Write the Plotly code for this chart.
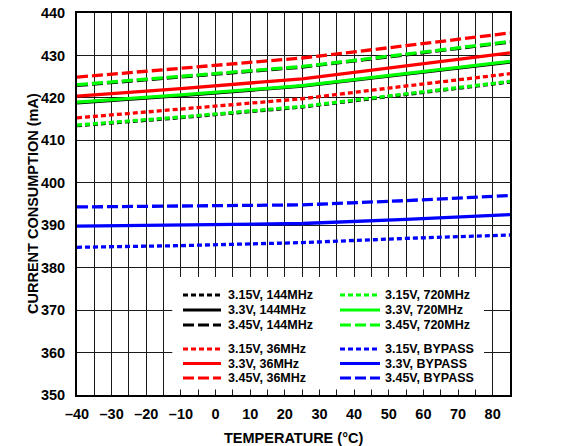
import plotly.graph_objects as go

temps = [-40, -10, 25, 55, 85]

# series values (mA)
i144_315 = [413.45, 415.35, 417.85, 420.85, 423.75]
i144_330 = [418.85, 420.55, 422.75, 425.65, 428.45]
i144_345 = [422.95, 424.85, 427.25, 430.15, 433.15]
i720_315 = [413.6, 415.5, 418.0, 421.0, 423.9]
i720_330 = [419.0, 420.7, 422.9, 425.8, 428.6]
i720_345 = [423.1, 425.0, 427.4, 430.3, 433.3]
i36_315 = [415.3, 417.3, 419.8, 422.8, 425.7]
i36_330 = [420.4, 422.2, 424.5, 427.6, 430.6]
i36_345 = [424.9, 426.9, 429.4, 432.3, 435.3]
ibp_315 = [384.8, 385.2, 385.9, 386.9, 387.7]
ibp_330 = [389.8, 390.0, 390.4, 391.4, 392.5]
ibp_345 = [394.3, 394.5, 394.8, 395.8, 397.0]

x_tickvals = [-40, -30, -20, -10, 0, 10, 20, 30, 40, 50, 60, 70, 80]
x_ticktext = ["\u201340", "\u201330", "\u201320", "\u201310", "0", "10", "20", "30", "40", "50", "60", "70", "80"]
y_tickvals = [350, 360, 370, 380, 390, 400, 410, 420, 430, 440]

x_title = "TEMPERATURE (\u00b0C)"
y_title = "CURRENT CONSUMPTION (mA)"

DOT = "5px,3px"
DASH = "11px,4px"
SOLID = "solid"

series = [
    ("3.15V, 144MHz", i144_315, "#000000", DOT),
    ("3.3V, 144MHz", i144_330, "#000000", SOLID),
    ("3.45V, 144MHz", i144_345, "#000000", DASH),
    ("3.15V, 720MHz", i720_315, "#00FF00", DOT),
    ("3.3V, 720MHz", i720_330, "#00FF00", SOLID),
    ("3.45V, 720MHz", i720_345, "#00FF00", DASH),
    ("3.15V, 36MHz", i36_315, "#FF0000", DOT),
    ("3.3V, 36MHz", i36_330, "#FF0000", SOLID),
    ("3.45V, 36MHz", i36_345, "#FF0000", DASH),
    ("3.15V, BYPASS", ibp_315, "#0000FF", DOT),
    ("3.3V, BYPASS", ibp_330, "#0000FF", SOLID),
    ("3.45V, BYPASS", ibp_345, "#0000FF", DASH),
]

FONT = "Liberation Sans, Arial, sans-serif"
W, H = 575, 446
ML, MR, MT, MB = 77, 65, 13, 51
PW, PH = W - ML - MR, H - MT - MB

fig = go.Figure()
for name, ys, col, dash in series:
    fig.add_trace(go.Scatter(x=temps, y=ys, mode="lines", name=name,
                             line=dict(color=col, width=3.3, dash=dash),
                             showlegend=False))

def px2paper_x(px):
    return (px - ML) / PW

def px2paper_y(py):
    return 1 - (py - MT) / PH

shapes = []
annotations = []
# white legend box hiding grid
shapes.append(dict(type="rect", xref="x", yref="y", x0=-12.5, x1=77.5, y0=351.3, y1=377.8,
                   fillcolor="white", line=dict(width=0), layer="between"))

cols = [(183, 221, 227), (340, 380, 384)]
rows_top = [295, 310, 325]
rows_bot = [349, 363.5, 378]
legend_pos = {}
for k in range(3):
    legend_pos[k] = (cols[0], rows_top[k])
    legend_pos[3 + k] = (cols[1], rows_top[k])
    legend_pos[6 + k] = (cols[0], rows_bot[k])
    legend_pos[9 + k] = (cols[1], rows_bot[k])

for idx, (name, ys, col, dash) in enumerate(series):
    (lx0, lx1, tx), ry = legend_pos[idx]
    shapes.append(dict(type="line", xref="paper", yref="paper",
                       x0=px2paper_x(lx0), x1=px2paper_x(lx1),
                       y0=px2paper_y(ry), y1=px2paper_y(ry),
                       line=dict(color=col, width=3, dash=dash), layer="above"))
    annotations.append(dict(xref="paper", yref="paper", x=px2paper_x(tx), y=px2paper_y(ry),
                            text="<b>" + name + "</b>", showarrow=False, xanchor="left", yanchor="middle",
                            borderpad=0,
                            font=dict(family=FONT, size=12.5, color="black")))

# axis titles
annotations.append(dict(xref="paper", yref="paper", x=0.5, y=px2paper_y(438),
                        text="<b>" + x_title + "</b>", showarrow=False,
                        xanchor="center", yanchor="middle",
                        font=dict(family=FONT, size=14.5, color="black")))
annotations.append(dict(xref="paper", yref="paper", x=px2paper_x(33), y=0.5,
                        text="<b>" + y_title + "</b>", showarrow=False, textangle=-90,
                        xanchor="center", yanchor="middle",
                        font=dict(family=FONT, size=14.5, color="black")))

fig.update_layout(
    width=W, height=H,
    margin=dict(l=ML, r=MR, t=MT, b=MB, autoexpand=False),
    paper_bgcolor="white", plot_bgcolor="white",
    shapes=shapes, annotations=annotations,
    showlegend=False,
    font=dict(family=FONT, color="black"),
    xaxis=dict(range=[-40, 85], tickvals=x_tickvals, ticktext=x_ticktext, automargin=False,
               showgrid=True, gridcolor="#1a1a1a", gridwidth=1,
               minor=dict(dtick=5, tick0=-40, showgrid=True, gridcolor="#1a1a1a", gridwidth=1),
               showline=True, linecolor="black", linewidth=2, mirror=True,
               ticks="", zeroline=False, ticklabelstandoff=5,
               tickfont=dict(family=FONT, size=14.5, color="black", weight="bold")),
    yaxis=dict(range=[350, 440], tickvals=y_tickvals, automargin=False,
               showgrid=True, gridcolor="#1a1a1a", gridwidth=1,
               showline=True, linecolor="black", linewidth=2, mirror=True,
               ticks="", zeroline=False, ticklabelstandoff=7,
               tickfont=dict(family=FONT, size=14.5, color="black", weight="bold")),
)

fig.write_html("out.html")
